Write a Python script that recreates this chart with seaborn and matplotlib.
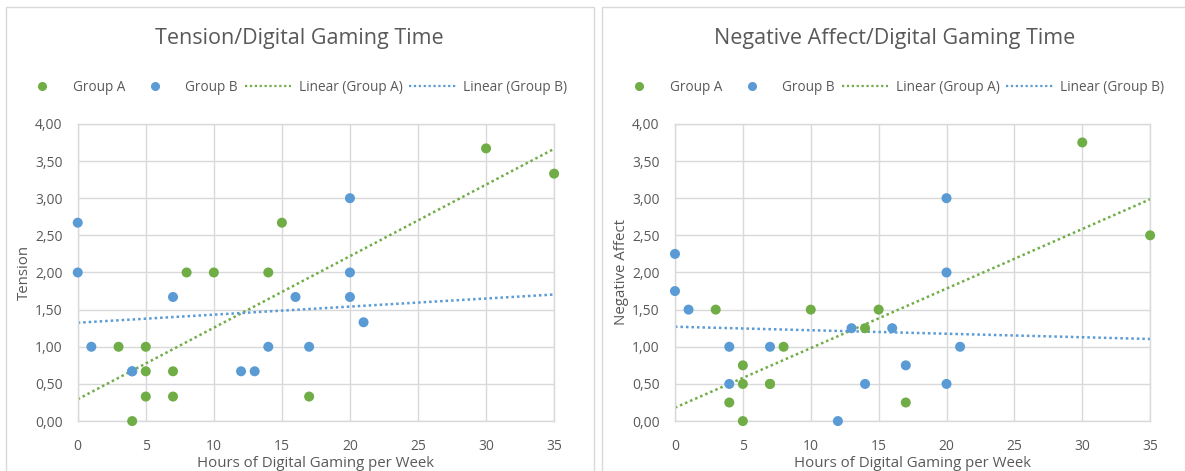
import numpy as np
import pandas as pd
import matplotlib.pyplot as plt
import seaborn as sns
from matplotlib.lines import Line2D
from matplotlib.patches import Rectangle
from matplotlib.ticker import FuncFormatter

# Tension panel
tension_a_hours = [3, 4, 5, 5, 5, 7, 7, 8, 10, 14, 15, 17, 30, 35]
tension_a_score = [1.0, 0.0, 1.0, 0.67, 0.33, 0.67, 0.33, 2.0, 2.0, 2.0, 2.67, 0.33, 3.67, 3.33]
tension_b_hours = [0, 0, 1, 4, 4, 7, 12, 13, 14, 16, 17, 20, 20, 20, 21]
tension_b_score = [2.67, 2.0, 1.0, 0.67, 0.67, 1.67, 0.67, 0.67, 1.0, 1.67, 1.0, 3.0, 2.0, 1.67, 1.33]

# Negative affect panel
negaff_a_hours = [3, 4, 5, 5, 5, 7, 7, 8, 10, 14, 15, 17, 30, 35]
negaff_a_score = [1.5, 0.25, 0.75, 0.5, 0.0, 0.5, 0.5, 1.0, 1.5, 1.25, 1.5, 0.25, 3.75, 2.5]
negaff_b_hours = [0, 0, 1, 4, 4, 7, 12, 13, 14, 16, 17, 20, 20, 20, 21]
negaff_b_score = [2.25, 1.75, 1.5, 1.0, 0.5, 1.0, 0.0, 1.25, 0.5, 1.25, 0.75, 3.0, 2.0, 0.5, 1.0]

GREEN = '#70AD47'
BLUE = '#5B9BD5'
TEXT = '#595959'
GRID = '#D9D9D9'

sns.set_theme(style="whitegrid")
plt.rcParams['font.family'] = ['Open Sans', 'DejaVu Sans']


def make_df(a_x, a_y, b_x, b_y):
    return pd.DataFrame({
        'hours': a_x + b_x,
        'score': a_y + b_y,
        'group': ['Group A'] * len(a_x) + ['Group B'] * len(b_x),
    })


def draw_panel(ax, df, title, ylabel, title_x, legend_x):
    sns.scatterplot(data=df, x='hours', y='score', hue='group',
                    palette={'Group A': GREEN, 'Group B': BLUE},
                    s=52, linewidth=0, ax=ax, legend=False, zorder=3, clip_on=False)
    # linear trend lines over the whole x range
    xs = np.array([0, 35])
    for grp, col in [('Group A', GREEN), ('Group B', BLUE)]:
        sub = df[df['group'] == grp]
        slope, icpt = np.polyfit(sub['hours'], sub['score'], 1)
        ax.plot(xs, slope * xs + icpt, linestyle=(0, (1, 1.2)), color=col,
                linewidth=1.8, zorder=2)

    ax.set_xlim(0, 35)
    ax.set_ylim(0, 4)
    ax.set_xticks(range(0, 36, 5))
    ax.set_yticks(np.arange(0, 4.01, 0.5))
    ax.yaxis.set_major_formatter(FuncFormatter(lambda v, p: f'{v:.2f}'.replace('.', ',')))
    ax.grid(True, color=GRID, linewidth=1)
    for sp in ax.spines.values():
        sp.set_color(GRID)
        sp.set_linewidth(1)
    ax.tick_params(colors=TEXT, labelsize=10, length=0)
    ax.tick_params(axis='y', pad=11)
    ax.tick_params(axis='x', pad=13)
    ax.set_xlabel('Hours of Digital Gaming per Week', color=TEXT, fontsize=10.8, labelpad=1)
    ax.set_ylabel(ylabel, color=TEXT, fontsize=10.8, labelpad=2)

    fig.text(title_x, 0.918, title, ha='center', va='center', fontsize=15.5, color=TEXT)

    handles = [
        Line2D([], [], marker='o', color=GREEN, linestyle='none', markersize=5.5),
        Line2D([], [], marker='o', color=BLUE, linestyle='none', markersize=5.5),
        Line2D([], [], color=GREEN, linestyle=(0, (1, 1.2)), linewidth=1.6),
        Line2D([], [], color=BLUE, linestyle=(0, (1, 1.2)), linewidth=1.6),
    ]
    labels = ['Group A', 'Group B', 'Linear (Group A)', 'Linear (Group B)']
    fig.legend(handles, labels, loc='center', bbox_to_anchor=(legend_x, 0.815),
               ncol=4, frameon=False, fontsize=9.8, labelcolor=TEXT,
               handlelength=3.4, handletextpad=0.55, columnspacing=0.5)


fig = plt.figure(figsize=(11.85, 4.71), dpi=100)
ax1 = fig.add_axes([0.0656, 0.106, 0.402, 0.631])
ax2 = fig.add_axes([0.5696, 0.106, 0.401, 0.631])

# chart area borders
for x0, x1 in [(6, 594), (602, 1200)]:
    fig.patches.append(Rectangle((x0 / 1185, -0.1), (x1 - x0) / 1185, 1.085,
                                 transform=fig.transFigure, fill=False,
                                 edgecolor=GRID, linewidth=1))

draw_panel(ax1, make_df(tension_a_hours, tension_a_score, tension_b_hours, tension_b_score),
           'Tension/Digital Gaming Time', 'Tension', 299 / 1185, 293 / 1185)
draw_panel(ax2, make_df(negaff_a_hours, negaff_a_score, negaff_b_hours, negaff_b_score),
           'Negative Affect/Digital Gaming Time', 'Negative Affect', 895 / 1185, 890 / 1185)

fig.savefig('out.png', dpi=100, facecolor='white')
